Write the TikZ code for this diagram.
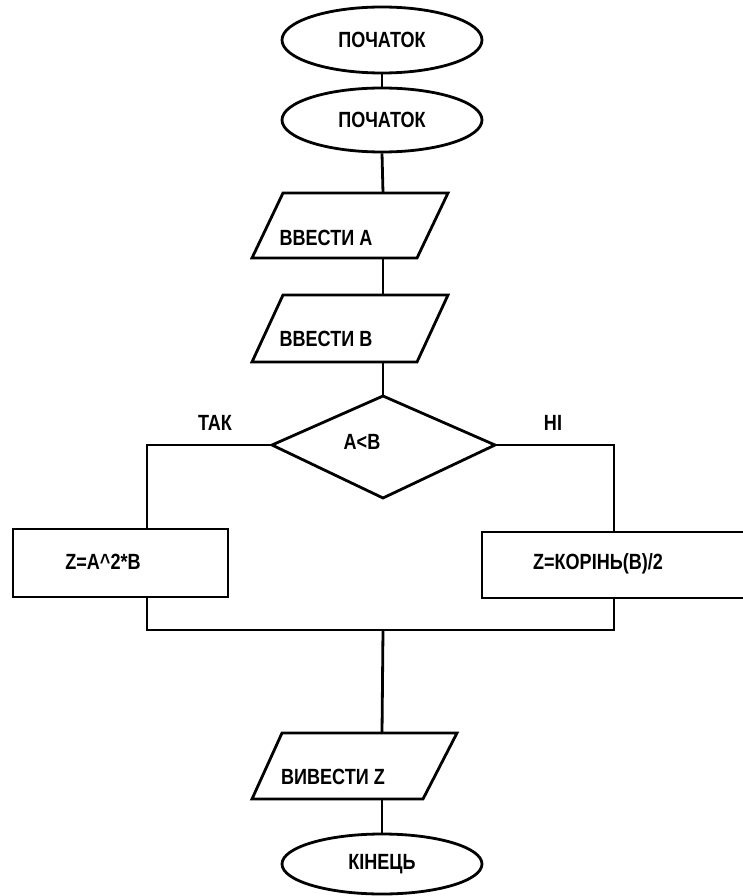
\documentclass[tikz,border=0pt]{standalone}
\usepackage{fontspec}
\newfontfamily\lbl[FakeStretch=0.82]{Liberation Sans}
\usetikzlibrary{shapes.geometric}
\tikzset{
  txt/.style={font=\lbl\bfseries\fontsize{22}{22}\selectfont, inner sep=0pt},
  oval/.style={draw, ellipse, minimum width=200pt, minimum height=66pt, inner sep=0pt, font=\lbl\bfseries\fontsize{22}{22}\selectfont},
  box/.style={draw, rectangle, inner sep=0pt}
}
\begin{document}
\begin{tikzpicture}[x=1pt,y=-1pt,line width=2.8pt]
\useasboundingbox (0,0) rectangle (743,896);
\clip (0,0) rectangle (743,896);
\fill[white] (0,0) rectangle (743,896);
% terminals
\node[oval] (e1) at (382,40) {ПОЧАТОК};
\node[oval, minimum height=64pt] (e2) at (382,120) {ПОЧАТОК};
\node[oval, minimum height=60pt] (e3) at (382,864) {КІНЕЦЬ};
% parallelogram A
\coordinate (a1) at (283,193); \coordinate (a2) at (448,193);
\coordinate (a3) at (417,258); \coordinate (a4) at (252,258);
\draw (a1) -- (a2) -- (a3) -- (a4) -- cycle;
\node[txt] (tA) at (326,238) {ВВЕСТИ А};
% parallelogram B
\coordinate (b1) at (283,295); \coordinate (b2) at (448,295);
\coordinate (b3) at (417,362); \coordinate (b4) at (252,362);
\draw (b1) -- (b2) -- (b3) -- (b4) -- cycle;
\node[txt] (tB) at (326,339) {ВВЕСТИ В};
% decision
\coordinate (dT) at (383,396); \coordinate (dR) at (495,445);
\coordinate (dB) at (383,498); \coordinate (dL) at (272,445);
\draw (dT) -- (dR) -- (dB) -- (dL) -- cycle;
\node[txt] (tAB) at (362,442) {А<В};
\node[txt] (tTAK) at (215,423) {ТАК};
\node[txt] (tHI) at (553,423) {НІ};
% process boxes
\node[box, minimum width=215pt, minimum height=68pt] (rL) at (120.5,563) {};
\node[txt] (tL) at (103,562) {Z=A\^{}2*В};
\node[box, minimum width=278pt, minimum height=66pt] (rR) at (621,565) {};
\node[txt] (tR) at (598,564) {Z=КОРІНЬ(В)/2};
% output parallelogram
\coordinate (z1) at (282,733); \coordinate (z2) at (457,733);
\coordinate (z3) at (423,799); \coordinate (z4) at (252,799);
\draw (z1) -- (z2) -- (z3) -- (z4) -- cycle;
\node[txt] (tZ) at (333,777) {ВИВЕСТИ Z};
% connector points
\coordinate (inA) at (383,193); \coordinate (outA) at (383,258);
\coordinate (inB) at (383,295); \coordinate (outB) at (383,362);
\coordinate (tl) at (147,445); \coordinate (tr) at (614,445);
\coordinate (jl) at (147,630); \coordinate (jr) at (614,630);
\coordinate (jm) at (383,630);
\coordinate (inZ) at (382,733); \coordinate (outZ) at (382,799);
% connectors
\draw (e1.south) -- (e2.north);
\draw (e2.south) -- (inA);
\draw (outA) -- (inB);
\draw (outB) -- (dT);
\draw (dL) -- (tl) -- (rL.north -| tl);
\draw (dR) -- (tr) -- (rR.north -| tr);
\draw (rL.south -| jl) -- (jl) -- (jr) -- (rR.south -| jr);
\draw (jm) -- (inZ);
\draw (outZ) -- (e3.north);
\end{tikzpicture}
\end{document}
